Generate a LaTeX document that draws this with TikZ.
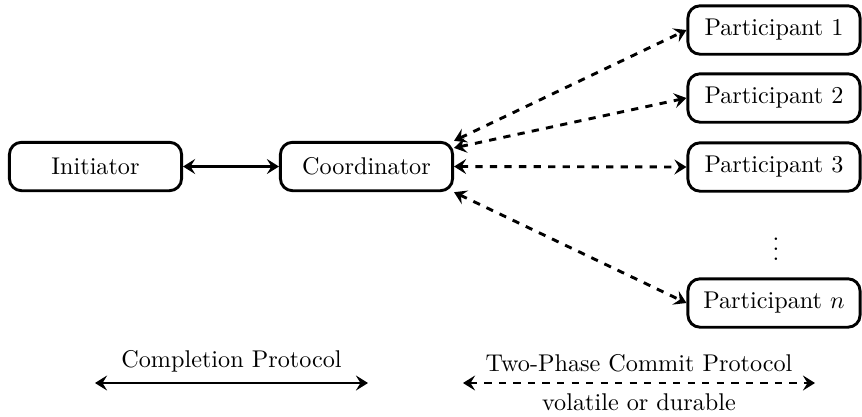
\documentclass[tikz,border=0pt]{standalone}
\usetikzlibrary{arrows.meta}
\begin{document}
\begin{tikzpicture}[x=0.4132pt, y=-0.4132pt,
  >={Stealth[length=5pt,width=6.2pt,inset=1.9pt]},
  party/.style={draw, line width=1.2pt, rounded corners=5pt,
    minimum width=2.5cm, minimum height=20pt, inner sep=3pt},
  link/.style={line width=1.2pt, <->},
  twopc/.style={link, dashed}]
  \useasboundingbox (0,0) rectangle (862,416);

  % actors
  \node[party] (init)  at (95.5,166.5) {Initiator};
  \node[party] (coord) at (366.5,166.5) {Coordinator};
  \node[party] (p1) at (774,30)  {Participant 1};
  \node[party] (p2) at (774,98)  {Participant 2};
  \node[party] (p3) at (774,167) {Participant 3};
  \node[party] (pn) at (774,303) {Participant $n$};
  \node (dots) at (776,242) {$\vdots$};

  % completion protocol
  \draw[link] (init.east) -- (coord.west);

  % two-phase commit to every participant
  \draw[twopc] (coord.north east) -- (p1.west);
  \draw[twopc] (coord.12) -- (p2.west);
  \draw[twopc] (coord.east) -- (p3.west);
  \draw[twopc] (coord.south east) -- (pn.west);

  % legend
  \coordinate (cl) at (95,383);
  \coordinate (cr) at (368,383);
  \draw[link] (cl) -- node[above, inner sep=4pt] (clabel) {Completion Protocol} (cr);
  \coordinate (tl) at (463,383);
  \coordinate (tr) at (815,383);
  \draw[twopc] (tl) -- node[above, inner sep=4pt] (tlabel) {Two-Phase Commit Protocol}
    node[below, inner sep=4pt] (tsub) {volatile or durable} (tr);
\end{tikzpicture}
\end{document}
